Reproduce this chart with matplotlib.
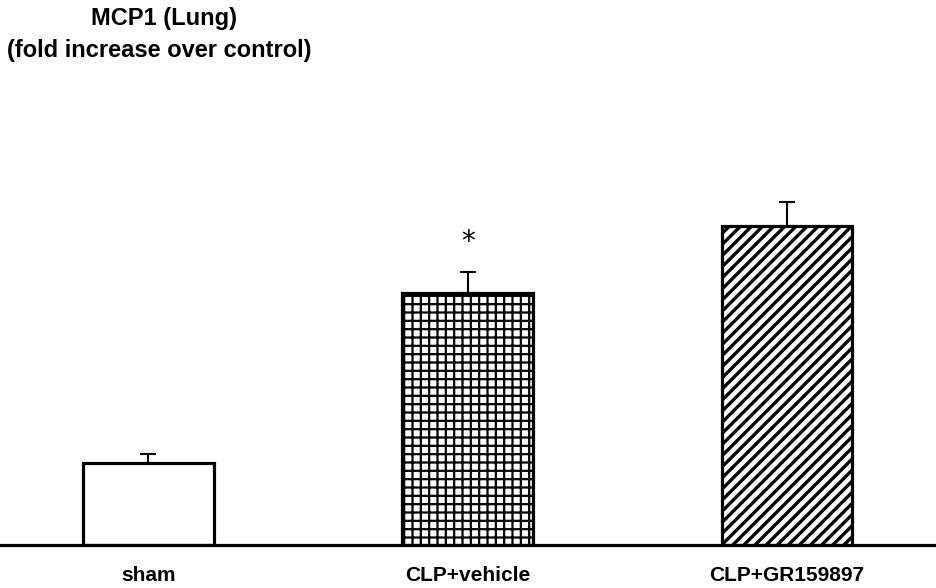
import matplotlib
matplotlib.use("Agg")
import matplotlib.pyplot as plt

groups = ["sham", "CLP+vehicle", "CLP+GR159897"]
fold = [1.0, 3.07, 3.89]
sem = [0.11, 0.26, 0.29]
hatches = ["", "++", "///"]
stars = ["", "*", ""]

plt.rcParams["font.family"] = ["Liberation Sans", "DejaVu Sans"]

fig = plt.figure(figsize=(9.37, 5.88), dpi=100)
ax = fig.add_axes([0, 43 / 588, 1, 545 / 588])

x = range(len(groups))
for i in x:
    b = ax.bar(i, fold[i], width=0.41, color="white", edgecolor="black",
               linewidth=2.3, hatch=hatches[i], zorder=2)[0]
    if hasattr(b, "set_hatch_linewidth"):
        b.set_hatch_linewidth(1.6 if hatches[i] == "++" else 2.4)
    ax.errorbar(i, fold[i], yerr=[[0], [sem[i]]], fmt="none", ecolor="black",
                elinewidth=1.5, capsize=5.5, capthick=1.5, zorder=1)
    if stars[i]:
        ax.text(i, fold[i] + sem[i] + 0.37, stars[i], ha="center", va="center",
                fontsize=20, family="DejaVu Sans")

ax.axhline(0, color="black", lw=2.3, zorder=3, clip_on=False)
ax.set_xlim(-0.465, 2.47)
ax.set_ylim(0, 545 / 82)
ax.axis("off")

for i, g in enumerate(groups):
    ax.text(i, -0.37, g, ha="center", va="center", fontsize=15,
            fontweight="bold")

fig.text(164 / 937, 1 - 19 / 588, "MCP1 (Lung)", ha="center", va="center",
         fontsize=17, fontweight="bold")
fig.text(159 / 937, 1 - 51 / 588, "(fold increase over control)", ha="center",
         va="center", fontsize=17, fontweight="bold")

fig.savefig("out.png", dpi=100)
